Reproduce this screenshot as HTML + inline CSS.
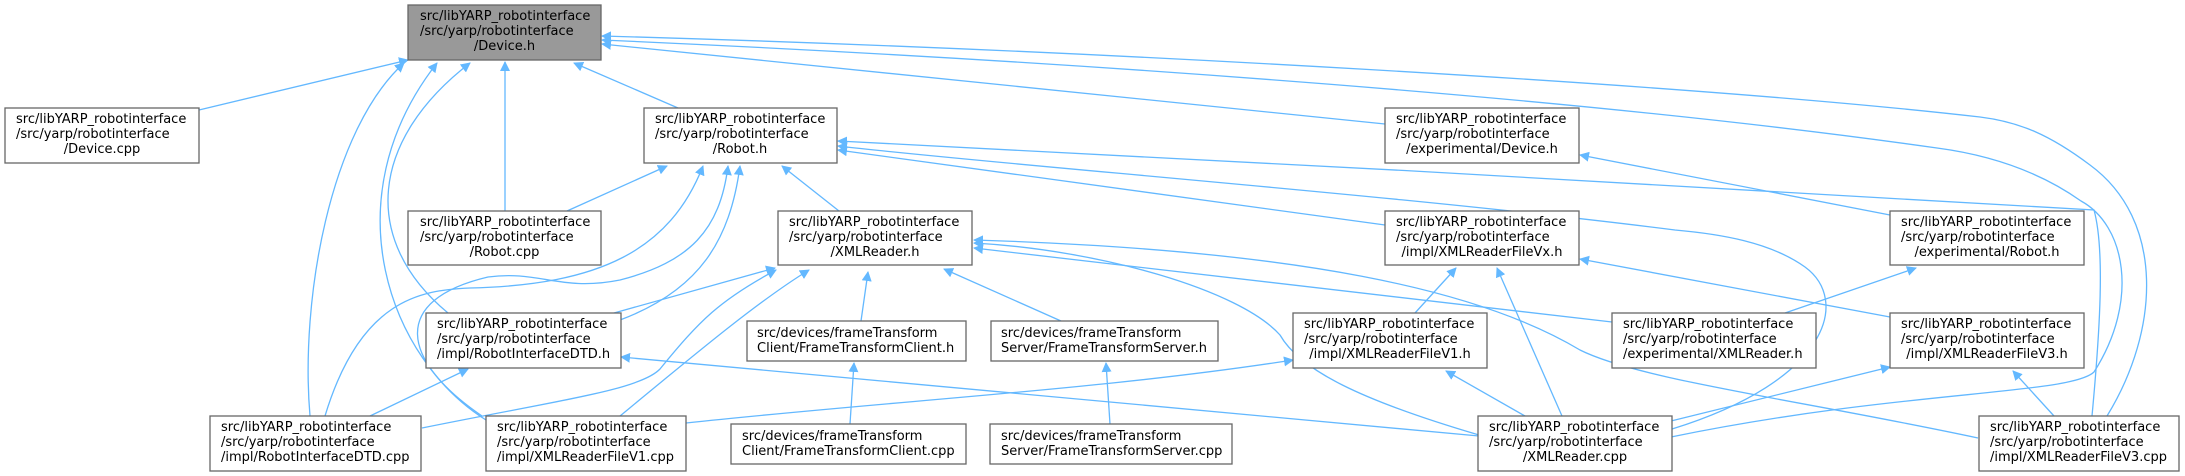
<!DOCTYPE html>
<html><head><meta charset="utf-8"><style>
html,body{margin:0;padding:0;background:#fff;}
svg{display:block;}
text{font-family:"DejaVu Sans","Liberation Sans",sans-serif;font-size:13px;fill:#000;}
.n{fill:#fff;stroke:#666;stroke-width:1.3;}
.e{fill:none;stroke:#63b8ff;stroke-width:1.3;}
</style></head><body>
<svg width="2185" height="476" viewBox="0 0 2185 476" xmlns="http://www.w3.org/2000/svg">
<defs><marker id="a" viewBox="0 0 10 10" refX="9" refY="5" markerWidth="10" markerHeight="10" markerUnits="userSpaceOnUse" orient="auto"><path d="M0,0 L10,5 L0,10 z" fill="#63b8ff"/></marker></defs>
<g class="e" marker-end="url(#a)">
<path d="M199,110 L408,60"/>
<path d="M678,108 L574,63"/>
<path d="M505,211 L505,62"/>
<path d="M1385,124 L602,44"/>
<path d="M1671,437 C1900,390 2070,395 2094,372 C2140,300 2125,225 2081,201 C2040,172 1990,155 1937,148 C1600,100 1100,62 602,40"/>
<path d="M2107,416 C2160,330 2165,220 2090,165 C2050,135 2020,122 1980,117 C1700,85 1100,50 602,36"/>
<path d="M310,416 C300,300 330,130 404,63"/>
<path d="M486,420 C390,360 330,200 437,63"/>
<path d="M448,313 C360,240 370,140 470,63"/>
<path d="M567,211 L667,166"/>
<path d="M839,211 L782,166"/>
<path d="M325,416 C360,300 420,290 470,288 C600,285 670,250 703,166"/>
<path d="M482,416 C400,360 390,300 488,277 C540,270 560,292 620,280 C690,262 720,230 728,166"/>
<path d="M620,320 C700,290 730,240 740,166"/>
<path d="M1385,225 L838,150"/>
<path d="M1672,429 C1830,380 1850,300 1805,267 C1770,242 1720,234 1675,230 C1400,195 1000,165 838,146"/>
<path d="M2092,416 C2100,330 2105,250 2094,210 C1800,190 1200,160 838,141"/>
<path d="M1890,215 L1580,155"/>
<path d="M861,321 L868,272"/>
<path d="M1061,321 L944,269"/>
<path d="M614,313 L775,268"/>
<path d="M422,428 C560,400 640,390 660,369 C700,320 720,300 776,270"/>
<path d="M620,416 C700,350 760,300 809,270"/>
<path d="M1612,322 L974,248"/>
<path d="M1479,435 C1360,400 1300,370 1280,335 C1240,290 1100,250 974,243"/>
<path d="M1978,438 C1800,400 1640,380 1580,350 C1480,290 1300,250 974,240"/>
<path d="M1415,313 L1456,268"/>
<path d="M1562,416 L1497,268"/>
<path d="M1890,317 L1580,259"/>
<path d="M1785,313 L1916,268"/>
<path d="M686,423 C900,400 1100,390 1293,360"/>
<path d="M1525,416 L1446,371"/>
<path d="M1479,436 L621,357"/>
<path d="M1671,421 L1890,367"/>
<path d="M2054,416 L2013,371"/>
<path d="M370,416 L468,369"/>
<path d="M850,424 L854,363"/>
<path d="M1110,424 L1106,363"/>
</g>
<g>
<rect class="n" x="408" y="5" width="193" height="55" style="fill:#999"/>
<text x="420" y="20">src/libYARP_robotinterface</text><text x="420" y="35">/src/yarp/robotinterface</text><text x="504.5" y="50" text-anchor="middle">/Device.h</text>

<rect class="n" x="5" y="108" width="194" height="55"/>
<text x="16" y="123">src/libYARP_robotinterface</text><text x="16" y="138">/src/yarp/robotinterface</text><text x="102" y="153" text-anchor="middle">/Device.cpp</text>

<rect class="n" x="644" y="108" width="193" height="55"/>
<text x="655" y="123">src/libYARP_robotinterface</text><text x="655" y="138">/src/yarp/robotinterface</text><text x="740" y="153" text-anchor="middle">/Robot.h</text>

<rect class="n" x="1385" y="108" width="194" height="55"/>
<text x="1396" y="123">src/libYARP_robotinterface</text><text x="1396" y="138">/src/yarp/robotinterface</text><text x="1482" y="153" text-anchor="middle">/experimental/Device.h</text>

<rect class="n" x="408" y="211" width="193" height="54"/>
<text x="420" y="226">src/libYARP_robotinterface</text><text x="420" y="241">/src/yarp/robotinterface</text><text x="504.5" y="256" text-anchor="middle">/Robot.cpp</text>

<rect class="n" x="778" y="211" width="194" height="54"/>
<text x="789" y="226">src/libYARP_robotinterface</text><text x="789" y="241">/src/yarp/robotinterface</text><text x="875" y="256" text-anchor="middle">/XMLReader.h</text>

<rect class="n" x="1385" y="211" width="194" height="54"/>
<text x="1396" y="226">src/libYARP_robotinterface</text><text x="1396" y="241">/src/yarp/robotinterface</text><text x="1482" y="256" text-anchor="middle">/impl/XMLReaderFileVx.h</text>

<rect class="n" x="1890" y="211" width="194" height="54"/>
<text x="1901" y="226">src/libYARP_robotinterface</text><text x="1901" y="241">/src/yarp/robotinterface</text><text x="1987" y="256" text-anchor="middle">/experimental/Robot.h</text>

<rect class="n" x="426" y="313" width="195" height="55"/>
<text x="437" y="328">src/libYARP_robotinterface</text><text x="437" y="343">/src/yarp/robotinterface</text><text x="437" y="358">/impl/RobotInterfaceDTD.h</text>

<rect class="n" x="747" y="321" width="219" height="40"/>
<text x="757" y="337">src/devices/frameTransform</text><text x="757" y="352">Client/FrameTransformClient.h</text>

<rect class="n" x="991" y="321" width="227" height="40"/>
<text x="1001" y="337">src/devices/frameTransform</text><text x="1001" y="352">Server/FrameTransformServer.h</text>

<rect class="n" x="1293" y="313" width="194" height="55"/>
<text x="1304" y="328">src/libYARP_robotinterface</text><text x="1304" y="343">/src/yarp/robotinterface</text><text x="1390" y="358" text-anchor="middle">/impl/XMLReaderFileV1.h</text>

<rect class="n" x="1612" y="313" width="204" height="55"/>
<text x="1623" y="328">src/libYARP_robotinterface</text><text x="1623" y="343">/src/yarp/robotinterface</text><text x="1623" y="358">/experimental/XMLReader.h</text>

<rect class="n" x="1890" y="313" width="194" height="55"/>
<text x="1901" y="328">src/libYARP_robotinterface</text><text x="1901" y="343">/src/yarp/robotinterface</text><text x="1987" y="358" text-anchor="middle">/impl/XMLReaderFileV3.h</text>

<rect class="n" x="210" y="416" width="211" height="55"/>
<text x="221" y="431">src/libYARP_robotinterface</text><text x="221" y="446">/src/yarp/robotinterface</text><text x="221" y="461">/impl/RobotInterfaceDTD.cpp</text>

<rect class="n" x="486" y="416" width="200" height="55"/>
<text x="497" y="431">src/libYARP_robotinterface</text><text x="497" y="446">/src/yarp/robotinterface</text><text x="497" y="461">/impl/XMLReaderFileV1.cpp</text>

<rect class="n" x="731" y="424" width="235" height="40"/>
<text x="742" y="440">src/devices/frameTransform</text><text x="742" y="455">Client/FrameTransformClient.cpp</text>

<rect class="n" x="990" y="424" width="242" height="40"/>
<text x="1001" y="440">src/devices/frameTransform</text><text x="1001" y="455">Server/FrameTransformServer.cpp</text>

<rect class="n" x="1478" y="416" width="194" height="55"/>
<text x="1489" y="431">src/libYARP_robotinterface</text><text x="1489" y="446">/src/yarp/robotinterface</text><text x="1575" y="461" text-anchor="middle">/XMLReader.cpp</text>

<rect class="n" x="1979" y="416" width="200" height="55"/>
<text x="1990" y="431">src/libYARP_robotinterface</text><text x="1990" y="446">/src/yarp/robotinterface</text><text x="1990" y="461">/impl/XMLReaderFileV3.cpp</text>
</g>
</svg>
</body></html>
